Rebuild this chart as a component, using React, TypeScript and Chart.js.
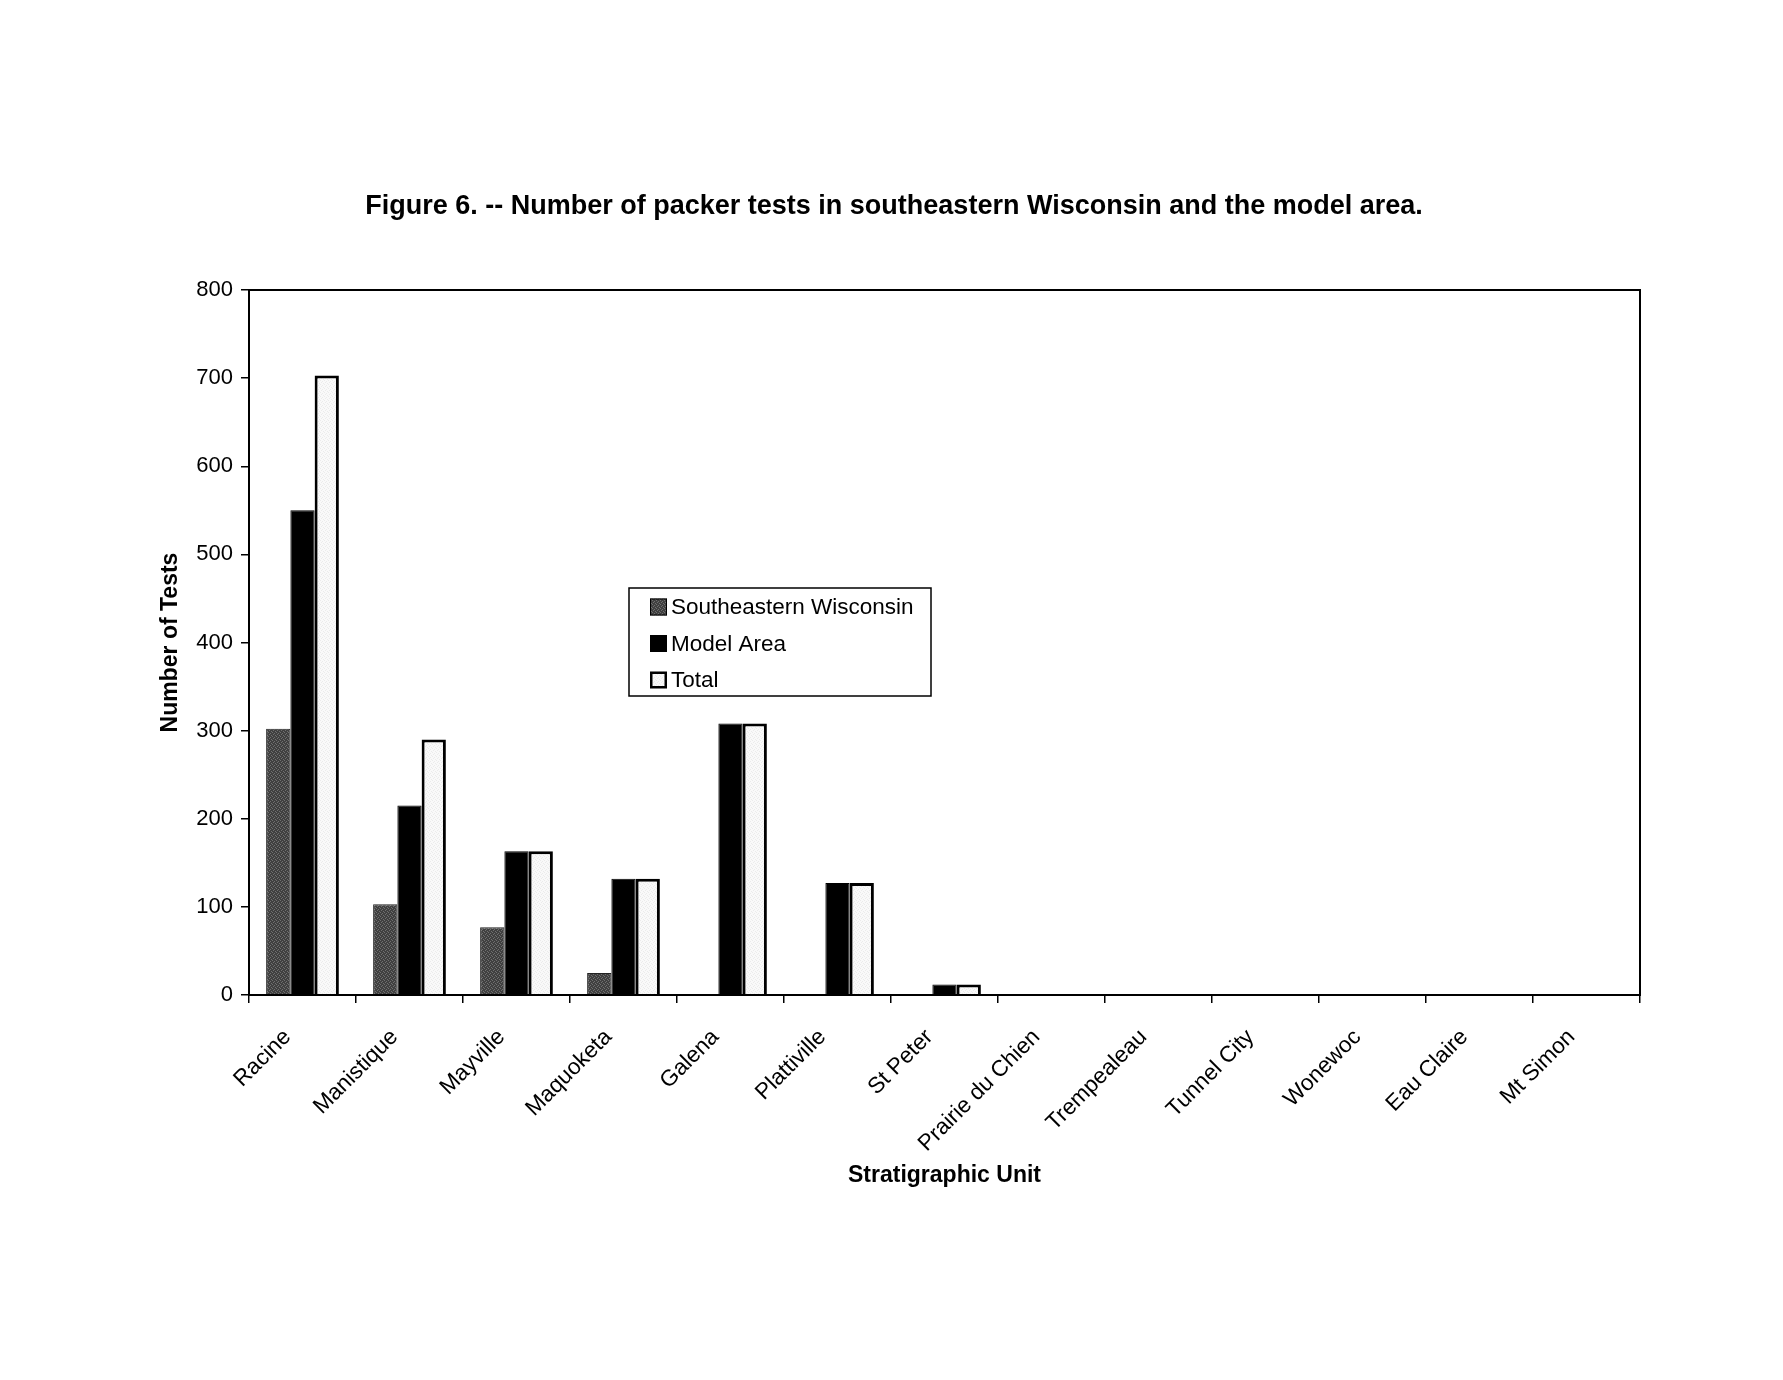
import React, { useEffect, useRef } from "react";
import { Chart, registerables } from "chart.js";

Chart.register(...registerables);

const categories = [
  "Racine", "Manistique", "Mayville", "Maquoketa", "Galena", "Plattiville", "St Peter",
  "Prairie du Chien", "Trempealeau", "Tunnel City", "Wonewoc", "Eau Claire", "Mt Simon",
];
const southeasternWisconsin = [302, 103, 77, 25, 0, 0, 0, 0, 0, 0, 0, 0, 0];
const modelArea = [550, 215, 163, 132, 308, 127, 12, 0, 0, 0, 0, 0, 0];
const total = [703, 290, 163, 132, 308, 127, 12, 0, 0, 0, 0, 0, 0];
const seriesNames = ["Southeastern Wisconsin", "Model Area", "Total"];
const yTicks = [0, 100, 200, 300, 400, 500, 600, 700, 800];

const FONT = "'Liberation Sans', Arial, Helvetica, sans-serif";

function makePattern(base: string, alt: string): CanvasPattern | string {
  const c = document.createElement("canvas");
  c.width = 4;
  c.height = 4;
  const g = c.getContext("2d");
  if (!g) return base;
  g.fillStyle = base;
  g.fillRect(0, 0, 4, 4);
  g.fillStyle = alt;
  g.fillRect(0, 0, 1, 1);
  g.fillRect(2, 1, 1, 1);
  g.fillRect(1, 2, 1, 1);
  g.fillRect(3, 3, 1, 1);
  const p = g.createPattern(c, "repeat");
  return p || base;
}

export default function App() {
  const ref = useRef<HTMLCanvasElement | null>(null);

  useEffect(() => {
    if (!ref.current) return;
    const sePattern = makePattern("#404040", "#707070");
    const totalFill = makePattern("#f9f9f9", "#ebebeb");
    const fills: any[] = [sePattern, "#000000", totalFill];
    const borders = ["#222222", "#000000", "#000000"];
    const bw = [1, 1, 3];

    const framePlugin = {
      id: "frameAndLegend",
      afterDraw(chart: any) {
        const { ctx, chartArea } = chart;
        ctx.save();
        ctx.strokeStyle = "#000";
        ctx.lineWidth = 2;
        ctx.strokeRect(chartArea.left, chartArea.top, chartArea.right - chartArea.left, chartArea.bottom - chartArea.top);
        // legend box
        const lx = chartArea.left + 380;
        const ly = chartArea.top + 298;
        const lw = 302;
        const lh = 108;
        ctx.fillStyle = "#fff";
        ctx.fillRect(lx, ly, lw, lh);
        ctx.lineWidth = 1.5;
        ctx.strokeRect(lx, ly, lw, lh);
        ctx.font = `22.5px ${FONT}`;
        ctx.textBaseline = "middle";
        ctx.textAlign = "left";
        for (let i = 0; i < seriesNames.length; i++) {
          const cy = ly + 19 + i * 36.5;
          const sx = lx + 21;
          const s = 17;
          ctx.fillStyle = fills[i];
          ctx.fillRect(sx, cy - s / 2, s, s);
          ctx.strokeStyle = "#000";
          const lwI = i === 2 ? 2.5 : 1;
          ctx.lineWidth = lwI;
          ctx.strokeRect(sx + lwI / 2, cy - s / 2 + lwI / 2, s - lwI, s - lwI);
          ctx.fillStyle = "#000";
          ctx.fillText(seriesNames[i], sx + s + 4, cy + 1);
        }
        ctx.restore();
      },
    };

    const chart = new Chart(ref.current, {
      type: "bar",
      data: {
        labels: categories,
        datasets: [
          { label: seriesNames[0], data: southeasternWisconsin, backgroundColor: fills[0], borderColor: borders[0], borderWidth: bw[0] },
          { label: seriesNames[1], data: modelArea, backgroundColor: fills[1], borderColor: borders[1], borderWidth: bw[1] },
          { label: seriesNames[2], data: total, backgroundColor: fills[2], borderColor: borders[2], borderWidth: bw[2] },
        ],
      },
      options: {
        animation: false,
        responsive: false,
        maintainAspectRatio: false,
        layout: { padding: { left: 148, right: 143, top: 180, bottom: 191 } },
        datasets: { bar: { categoryPercentage: 0.68, barPercentage: 1.0, borderSkipped: "start" } },
        plugins: {
          legend: { display: false },
          tooltip: { enabled: false },
          title: {
            display: true,
            text: "Figure 6. -- Number of packer tests in southeastern Wisconsin and the model area.",
            color: "#000",
            font: { family: FONT, size: 27, weight: "bold" },
            padding: { top: 10.8, bottom: 66.8 },
          },
        },
        scales: {
          x: {
            afterFit(scale: any) { scale.height = 194; },
            grid: { display: true, drawOnChartArea: false, drawTicks: true, tickLength: 8, color: "#000", lineWidth: 1.5, offset: true },
            border: { display: true, color: "#000", width: 2 },
            ticks: {
              color: "#000",
              font: { family: FONT, size: 22.5 },
              minRotation: 45,
              maxRotation: 45,
              padding: 21,
              labelOffset: -15,
              autoSkip: false,
            },
            title: {
              display: true,
              text: "Stratigraphic Unit",
              color: "#000",
              font: { family: FONT, size: 23, weight: "bold" },
              padding: { top: 4, bottom: 0 },
            },
          },
          y: {
            min: 0,
            max: 800,
            afterFit(scale: any) { scale.width = 101; },
            afterBuildTicks(scale: any) { scale.ticks = yTicks.map((v) => ({ value: v })); },
            grid: { display: true, drawOnChartArea: false, drawTicks: true, tickLength: 8, color: "#000", lineWidth: 1.5 },
            border: { display: true, color: "#000", width: 2 },
            ticks: { color: "#000", font: { family: FONT, size: 22 }, padding: 8 },
            title: {
              display: true,
              text: "Number of Tests",
              color: "#000",
              font: { family: FONT, size: 23, weight: "bold" },
              padding: { top: 9.2, bottom: 0 },
            },
          },
        },
      },
      plugins: [framePlugin],
    } as any);
    return () => chart.destroy();
  }, []);

  return (
    <div style={{ position: "absolute", left: 0, top: 0, width: 1783, height: 1380, background: "#fff" }}>
      <canvas ref={ref} width={1783} height={1380} style={{ width: 1783, height: 1380, display: "block" }} />
    </div>
  );
}
